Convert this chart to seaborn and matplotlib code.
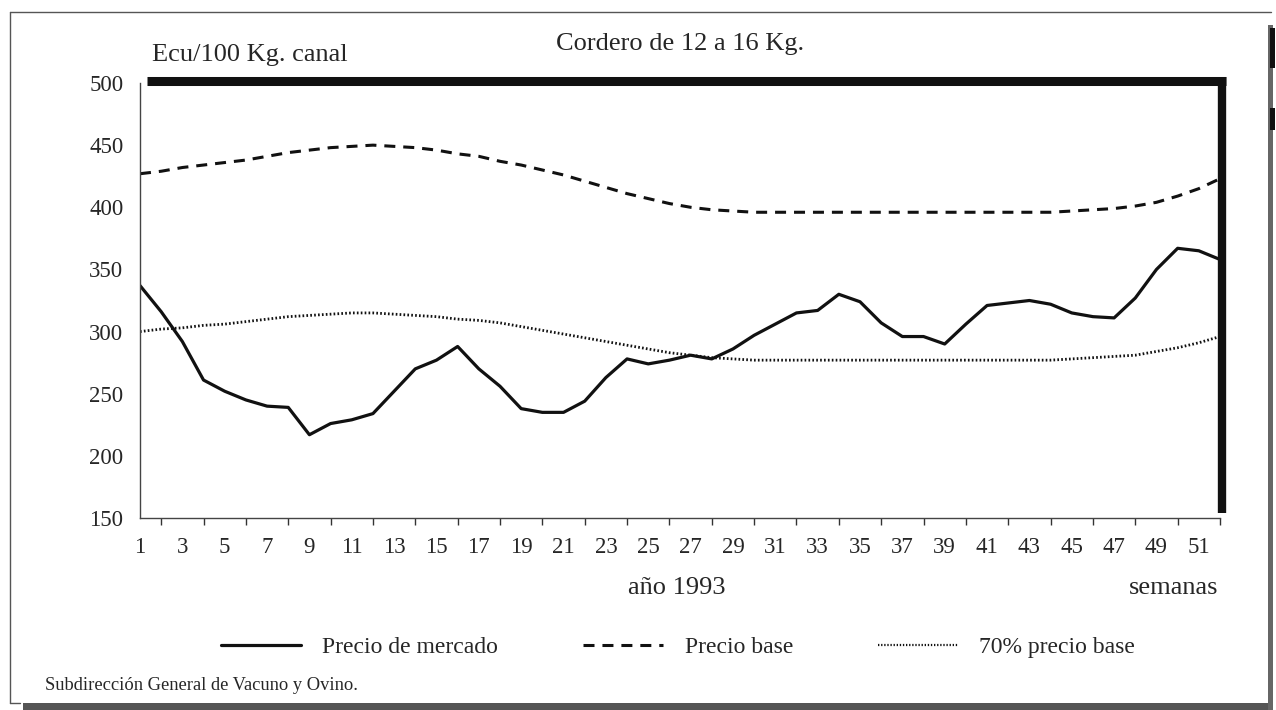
"""Cordero de 12 a 16 Kg.: precio de mercado frente a precio base (1993)."""

import matplotlib.pyplot as plt
import pandas as pd
import seaborn as sns
from matplotlib.lines import Line2D
from matplotlib.patches import Rectangle

# semanas del año 1993
weeks = list(range(1, 53))

precio_mercado = [
    337, 316, 292, 261, 252, 245, 240, 239, 217, 226,
    229, 234, 252, 270, 277, 288, 270, 256, 238, 235,
    235, 244, 263, 278, 274, 277, 281, 278, 286, 297,
    306, 315, 317, 330, 324, 307, 296, 296, 290, 306,
    321, 323, 325, 322, 315, 312, 311, 327, 350, 367,
    365, 358,
]
precio_base = [
    427, 429, 432, 434, 436, 438, 441, 444, 446, 448,
    449, 450, 449, 448, 446, 443, 441, 437, 434, 430,
    426, 421, 416, 411, 407, 403, 400, 398, 397, 396,
    396, 396, 396, 396, 396, 396, 396, 396, 396, 396,
    396, 396, 396, 396, 397, 398, 399, 401, 404, 409,
    415, 423,
]
precio_base_70 = [
    300, 302, 303, 305, 306, 308, 310, 312, 313, 314,
    315, 315, 314, 313, 312, 310, 309, 307, 304, 301,
    298, 295, 292, 289, 286, 283, 281, 279, 278, 277,
    277, 277, 277, 277, 277, 277, 277, 277, 277, 277,
    277, 277, 277, 277, 278, 279, 280, 281, 284, 287,
    291, 296,
]

series_names = ["Precio de mercado", "Precio base", "70% precio base"]
y_ticks = [150, 200, 250, 300, 350, 400, 450, 500]
x_labels = list(range(1, 52, 2))

df = pd.DataFrame({
    "semana": weeks * 3,
    "valor": precio_mercado + precio_base + precio_base_70,
    "serie": [series_names[0]] * 52 + [series_names[1]] * 52 + [series_names[2]] * 52,
})

sns.set_style("white")
plt.rcParams["font.family"] = ["Liberation Serif", "DejaVu Serif"]

W, H = 1276, 710
fig = plt.figure(figsize=(W / 100, H / 100), dpi=100)
ax = fig.add_axes([140 / W, 1 - 518 / H, (1220 - 140) / W, (518 - 83) / H])

styles = {
    "Precio de mercado": ("", 2.3),
    "Precio base": ((3.6, 2.6), 2.2),
    "70% precio base": ((0.6, 0.8), 2.0),
}
for name in series_names:
    sub = df[df["serie"] == name]
    dash, lw = styles[name]
    sns.lineplot(data=sub, x="semana", y="valor", ax=ax, color="#111111",
                 lw=lw, legend=False)
    if dash:
        ax.lines[-1].set_dashes(dash)

ax.set_xlim(1, 52)
ax.set_ylim(150, 500)
ax.set_yticks(y_ticks)
ax.set_xticks(x_labels)
ax.set_xticks(range(2, 53, 2), minor=True)
ax.set_xlabel("")
ax.set_ylabel("")
ax.tick_params(axis="both", which="major", labelsize=16.5, direction="out",
               length=8, width=1.0, color="#333333", pad=6)
ax.tick_params(axis="x", which="minor", direction="out", length=5,
               width=1.0, color="#333333", bottom=True)
ax.tick_params(axis="y", pad=4)

for side in ["top", "right"]:
    ax.spines[side].set_visible(False)
for side in ["left", "bottom"]:
    ax.spines[side].set_linewidth(1.0)
    ax.spines[side].set_color("#444444")

# marco grueso superior y derecho
fig.add_artist(Line2D([147 / W, 1226 / W], [1 - 81 / H, 1 - 81 / H],
                      color="#111111", lw=6.5, solid_capstyle="butt"))
fig.add_artist(Line2D([1222 / W, 1222 / W], [1 - 77 / H, 1 - 513 / H],
                      color="#111111", lw=6.0, solid_capstyle="butt"))

# marco de la página
fig.add_artist(Line2D([10 / W, 1271 / W], [1 - 12 / H, 1 - 12 / H],
                      color="#555555", lw=1.0))
fig.add_artist(Line2D([10 / W, 10 / W], [1 - 12 / H, 1 - 703 / H],
                      color="#555555", lw=1.0))
fig.add_artist(Line2D([10 / W, 20 / W], [1 - 703 / H, 1 - 703 / H],
                      color="#555555", lw=1.0))
fig.add_artist(Rectangle((23 / W, 0), (1268 - 23) / W, 7 / H,
                         transform=fig.transFigure, color="#555555", lw=0))
fig.add_artist(Rectangle((1268 / W, 0), 5 / W, (710 - 25) / H,
                         transform=fig.transFigure, color="#666666", lw=0))
fig.add_artist(Rectangle((1270 / W, 1 - 68 / H), 5 / W, 40 / H,
                         transform=fig.transFigure, color="#111111", lw=0))
fig.add_artist(Rectangle((1270 / W, 1 - 130 / H), 5 / W, 22 / H,
                         transform=fig.transFigure, color="#111111", lw=0))

# textos
fig.text(680 / W, 1 - 44 / H, "Cordero de 12 a 16 Kg.", ha="center", va="center",
         fontsize=19)
fig.text(152 / W, 1 - 55 / H, "Ecu/100 Kg. canal", ha="left", va="center",
         fontsize=19)
fig.text(677 / W, 1 - 588 / H, "año 1993", ha="center", va="center", fontsize=19)
fig.text(1218 / W, 1 - 588 / H, "semanas", ha="right", va="center", fontsize=19)
fig.text(45 / W, 1 - 685 / H, "Subdirección General de Vacuno y Ovino.",
         ha="left", va="center", fontsize=13.3)

handles = [
    Line2D([], [], color="#111111", lw=2.3),
    Line2D([], [], color="#111111", lw=2.2, dashes=(3.6, 2.6)),
    Line2D([], [], color="#111111", lw=1.6, dashes=(0.6, 0.8)),
]
fig.legend(handles, series_names, loc="center", bbox_to_anchor=(678 / W, 1 - 647 / H),
           ncol=3, frameon=False, fontsize=17, handlelength=3.4,
           handletextpad=0.9, columnspacing=3.6)

fig.savefig("out.png", dpi=100)
